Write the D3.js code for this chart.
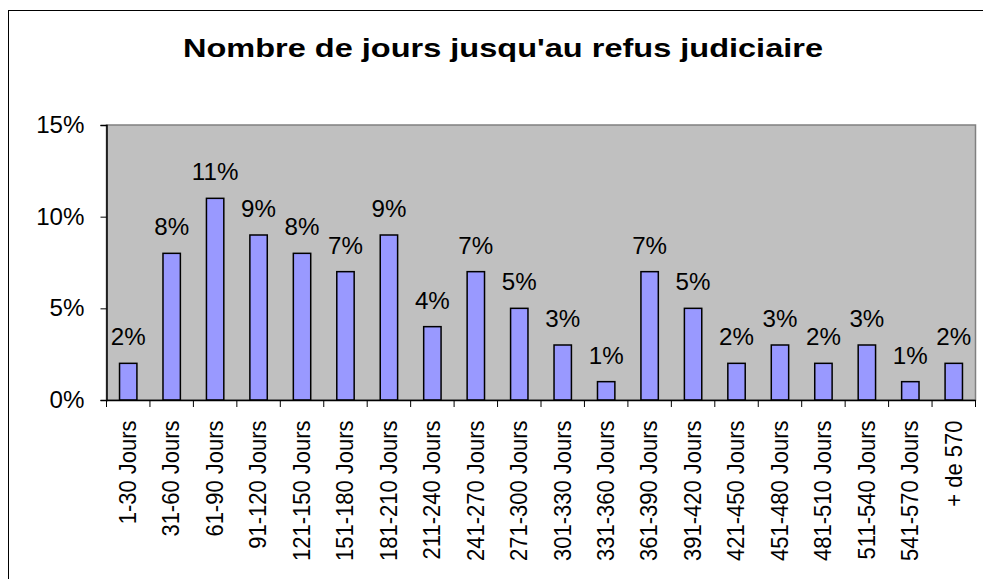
<!DOCTYPE html>
<html><head><meta charset="utf-8">
<script src="https://cdn.jsdelivr.net/npm/d3@7"></script>
<style>body{margin:0;background:#fff}svg{display:block;font-family:"Liberation Sans",Arial,sans-serif}</style>
</head><body>
<script>
const categories = ["1-30 Jours","31-60 Jours","61-90 Jours","91-120 Jours","121-150 Jours","151-180 Jours","181-210 Jours","211-240 Jours","241-270 Jours","271-300 Jours","301-330 Jours","331-360 Jours","361-390 Jours","391-420 Jours","421-450 Jours","451-480 Jours","481-510 Jours","511-540 Jours","541-570 Jours","+ de 570"];
const values = [2,8,11,9,8,7,9,4,7,5,3,1,7,5,2,3,2,3,1,2];
const yTicks = [0,5,10,15];
const title = "Nombre de jours jusqu'au refus judiciaire";

const W = 983, H = 579;
const m = {left:106.5, right:975.5, top:125, bottom:400};
const svg = d3.select("body").append("svg").attr("width",W).attr("height",H);

function stretch(sel, sx){
  sel.each(function(){
    const len = this.getComputedTextLength();
    d3.select(this).attr("textLength", len*sx).attr("lengthAdjust","spacingAndGlyphs");
  });
}

svg.append("rect").attr("x",8.5).attr("y",10.5).attr("width",W).attr("height",H)
  .attr("fill","none").attr("stroke","#000").attr("stroke-width",1);

const t = svg.append("text").attr("x",503).attr("y",57).attr("text-anchor","middle")
  .attr("font-size",26.5).attr("font-weight","bold").text(title);
t.attr("textLength",640).attr("lengthAdjust","spacingAndGlyphs");

const x = d3.scaleBand().domain(categories).range([m.left,m.right]).paddingInner(0.6).paddingOuter(0.3);
const xb = d3.scaleBand().domain(categories).range([m.left,m.right]);
const y = d3.scaleLinear().domain([0,15]).range([m.bottom,m.top]);

svg.append("rect").attr("x",m.left).attr("y",m.top).attr("width",m.right-m.left).attr("height",m.bottom-m.top)
  .attr("fill","#C0C0C0").attr("stroke","#808080").attr("stroke-width",1.5);

svg.selectAll("rect.bar").data(values).join("rect").attr("class","bar")
  .attr("x",(d,i)=>x(categories[i])).attr("width",x.bandwidth())
  .attr("y",d=>y(d)).attr("height",d=>y(0)-y(d))
  .attr("fill","#9999FF").attr("stroke","#000").attr("stroke-width",1.5);

const vl = svg.selectAll("text.val").data(values).join("text").attr("class","val")
  .attr("x",(d,i)=>x(categories[i])+x.bandwidth()/2).attr("y",d=>y(d)-18)
  .attr("text-anchor","middle").attr("font-size",23).text(d=>d+"%");
stretch(vl, 1.05);

// y axis
const ya = svg.append("g").attr("transform",`translate(${m.left},0)`)
  .call(d3.axisLeft(y).tickValues(yTicks).tickFormat(d=>d+"%").tickSize(6).tickPadding(16));
ya.selectAll("text").attr("font-size",23).attr("fill","#000").attr("font-family","Liberation Sans, Arial, sans-serif");
stretch(ya.selectAll("text"), 1.05);
ya.selectAll("line").attr("stroke","#000");
ya.select(".domain").attr("stroke","#000").attr("stroke-width",1.5);

// x axis
const xa = svg.append("g").attr("transform",`translate(0,${m.bottom})`)
  .call(d3.axisBottom(xb).tickSize(0).tickPadding(0));
xa.select(".domain").attr("stroke","#000").attr("stroke-width",1.5);
xa.selectAll(".tick text").attr("font-size",22).attr("fill","#000").attr("font-family","Liberation Sans, Arial, sans-serif")
  .attr("transform","scale(1.08,1) rotate(-90)").attr("text-anchor","end").attr("x",-20.5).attr("y",-0.5).attr("dy","0.35em");
const bounds = categories.map(c=>xb(c)).concat([m.right]);
svg.selectAll("line.xt").data(bounds).join("line").attr("class","xt")
  .attr("x1",d=>d).attr("x2",d=>d).attr("y1",m.bottom).attr("y2",m.bottom+7).attr("stroke","#000");
</script>
</body></html>
